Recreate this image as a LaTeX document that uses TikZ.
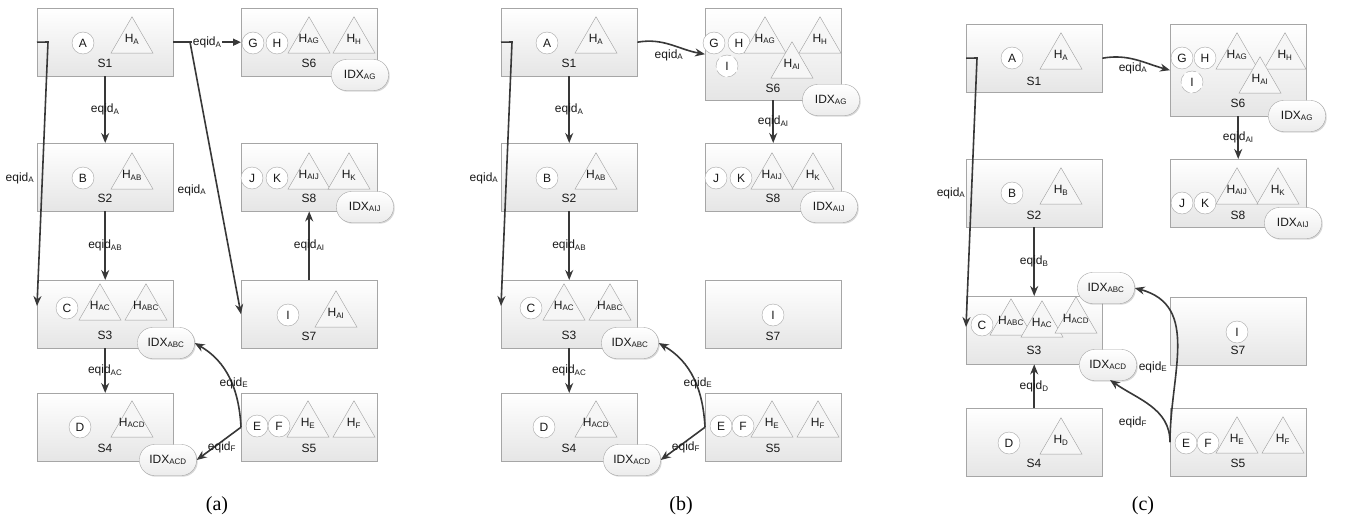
\documentclass[tikz,border=0pt]{standalone}
\usepackage{fontspec}
\setmainfont{Liberation Sans}
\newfontfamily\capfont{Liberation Serif}
\usetikzlibrary{arrows.meta,shapes.geometric,shadows}
\tikzset{
  sbox/.style={draw=gray!70, top color=white, bottom color=gray!20, inner sep=0pt,
    drop shadow={shadow xshift=1.2pt, shadow yshift=-1.2pt, opacity=0.3}},
  lab/.style={font=\fontsize{12}{14}\selectfont, text=black!90, inner sep=1pt},
  cnode/.style={circle, draw=gray!70, fill=white, minimum size=22pt, inner sep=0pt,
    font=\fontsize{12}{14}\selectfont, text=black!90},
  dcnode/.style={cnode, dash pattern=on 10pt off 3pt},
  tnode/.style={regular polygon, regular polygon sides=3, minimum size=48.5pt, inner sep=0pt,
    draw=gray!75, fill=gray!7},
  idx/.style={rectangle, rounded corners=15pt, minimum width=57pt, minimum height=31pt, inner sep=0pt,
    draw=gray!70, top color=white, bottom color=gray!15, font=\fontsize{12}{14}\selectfont, text=black!90,
    drop shadow={shadow xshift=1.2pt, shadow yshift=-1.2pt, opacity=0.3}},
  conn/.style={draw=black!78, line width=1.6pt, -{Stealth[length=10pt, width=8pt]}},
  wlab/.style={lab, fill=white},
  captxt/.style={font=\capfont\fontsize{20}{24}\selectfont, text=black}
}
\newcommand{\mkbox}[5]{\node[sbox, minimum width=#4pt, minimum height=#5pt, anchor=north west] (#1) at (#2,#3) {};}
\newcommand{\mkcirc}[4]{\node[cnode] (#1) at (#2,#3) {#4};}
\newcommand{\mkdcirc}[4]{\node[dcnode] (#1) at (#2,#3) {#4};}
\newcommand{\mktri}[4]{\node[tnode] (#1) at (#2,#3) {}; \node[lab] (#1l) at ([yshift=2pt]#1.center) {H\textsubscript{#4}};}
\newcommand{\mklab}[4]{\node[lab] (#1) at (#2,#3) {#4};}
\newcommand{\mkidx}[4]{\node[idx] (#1) at (#2,#3) {IDX\textsubscript{#4}};}
\newcommand{\eq}[1]{eqid\textsubscript{#1}}
\begin{document}
\begin{tikzpicture}[x=1pt, y=-1pt]
\fill[white] (0,0) rectangle (1348,524);
\useasboundingbox (0,0) rectangle (1348,524);

%%%%%%%%%%%%%%%% Panel (a)
\mkbox{a1}{37}{8}{136}{68}
\mkbox{a2}{37}{143}{136}{68}
\mkbox{a3}{37}{280}{136}{68}
\mkbox{a4}{37}{393}{136}{68}
\mkbox{a6}{241}{8}{136}{68}
\mkbox{a8}{241}{143}{136}{68}
\mkbox{a7}{241}{280}{136}{68}
\mkbox{a5}{241}{393}{136}{68}
\mklab{a1l}{105}{63}{S1}
\mklab{a2l}{105}{198}{S2}
\mklab{a3l}{105}{335}{S3}
\mklab{a4l}{105}{448}{S4}
\mklab{a6l}{309}{63}{S6}
\mklab{a8l}{309}{198}{S8}
\mklab{a7l}{309}{336}{S7}
\mklab{a5l}{309}{448}{S5}
\mkcirc{aA}{83}{43}{A}
\mkcirc{aG}{253}{43}{G}
\mkcirc{aH}{277}{43}{H}
\mkcirc{aB}{83}{178}{B}
\mkcirc{aJ}{252}{178}{J}
\mkcirc{aK}{277}{178}{K}
\mkcirc{aC}{67}{308}{C}
\mkcirc{aD}{80}{427}{D}
\mkcirc{aI}{288}{315}{I}
\mkcirc{aE}{257}{426}{E}
\mkcirc{aF}{279}{426}{F}
\mktri{aTA}{132}{41}{A}
\mktri{aTAG}{309}{41}{AG}
\mktri{aTH}{354}{41}{H}
\mktri{aTAB}{132}{177}{AB}
\mktri{aTAIJ}{309}{177}{AIJ}
\mktri{aTK}{349}{177}{K}
\mktri{aTAC}{100}{308}{AC}
\mktri{aTABC}{146}{308}{ABC}
\mktri{aTACD}{132}{425}{ACD}
\mktri{aTAI}{336}{315}{AI}
\mktri{aTE}{308}{425}{E}
\mktri{aTF}{354}{425}{F}
\mkidx{aAG}{360}{75}{AG}
\mkidx{aAIJ}{365}{207}{AIJ}
\mkidx{aABC}{166}{343}{ABC}
\mkidx{aACD}{168}{460}{ACD}

\draw[conn] (a1.south) -- node[lab]{\eq{A}} (a2.north);
\draw[conn] (a2.south) -- node[lab]{\eq{AB}} (a3.north);
\draw[conn] (a3.south) -- node[lab]{\eq{AC}} (a4.north);
\draw[conn] (a7.north) -- node[lab]{\eq{AI}} (a8.south);
\draw[conn, -{Triangle[length=8pt, width=7pt]}] (a1.east) -- node[wlab]{\eq{A}} (a6.west);
\coordinate (aL1) at (48,42);
\coordinate (aL2) at (37,306);
\draw[conn] (a1.west) -- (aL1) -- (aL2);
\mklab{aLl}{20}{178}{\eq{A}}
\coordinate (aR1) at (190,42);
\draw[conn] (a1.east) -- (aR1) -- (a7.west);
\mklab{aRl}{192}{190}{\eq{A}}
\draw[conn] (a5.west) to[out=93, in=-30] (aABC.east);
\mklab{aEl}{234}{383}{\eq{E}}
\draw[conn] (a5.west) -- (aACD.east);
\mklab{aFl}{222}{447}{\eq{F}}
\node[captxt] (capa) at (217,506) {(a)};

%%%%%%%%%%%%%%%% Panel (b)
\mkbox{b1}{501}{8}{136}{68}
\mkbox{b2}{501}{143}{136}{68}
\mkbox{b3}{501}{280}{136}{68}
\mkbox{b4}{501}{393}{136}{68}
\mkbox{b6}{705}{8}{136}{92}
\mkbox{b8}{705}{143}{136}{68}
\mkbox{b7}{705}{280}{136}{68}
\mkbox{b5}{705}{393}{136}{68}
\mklab{b1l}{569}{63}{S1}
\mklab{b2l}{569}{198}{S2}
\mklab{b3l}{569}{335}{S3}
\mklab{b4l}{569}{448}{S4}
\mklab{b6l}{773}{88}{S6}
\mklab{b8l}{773}{198}{S8}
\mklab{b7l}{773}{336}{S7}
\mklab{b5l}{773}{448}{S5}
\mkcirc{bA}{547}{43}{A}
\mkcirc{bB}{547}{178}{B}
\mkcirc{bC}{531}{308}{C}
\mkcirc{bD}{544}{427}{D}
\mkcirc{bG}{714}{43}{G}
\mkcirc{bH}{739}{43}{H}
\mkdcirc{bI1}{727}{66}{I}
\mkcirc{bJ}{716}{178}{J}
\mkcirc{bK}{741}{178}{K}
\mkcirc{bI2}{773}{315}{I}
\mkcirc{bE}{721}{426}{E}
\mkcirc{bF}{743}{426}{F}
\mktri{bTA}{596}{41}{A}
\mktri{bTAB}{596}{177}{AB}
\mktri{bTAC}{564}{308}{AC}
\mktri{bTABC}{610}{308}{ABC}
\mktri{bTACD}{596}{425}{ACD}
\mktri{bTAG}{765}{41}{AG}
\mktri{bTH}{820}{41}{H}
\mktri{bTAI}{792}{66}{AI}
\mktri{bTAIJ}{772}{177}{AIJ}
\mktri{bTK}{813}{177}{K}
\mktri{bTE}{772}{425}{E}
\mktri{bTF}{818}{425}{F}
\mkidx{bAG}{831}{100}{AG}
\mkidx{bAIJ}{829}{207}{AIJ}
\mkidx{bABC}{630}{343}{ABC}
\mkidx{bACD}{632}{460}{ACD}

\draw[conn] (b1.south) -- node[lab]{\eq{A}} (b2.north);
\draw[conn] (b2.south) -- node[lab]{\eq{AB}} (b3.north);
\draw[conn] (b3.south) -- node[lab]{\eq{AC}} (b4.north);
\draw[conn] (b6.south) -- node[lab]{\eq{AI}} (b8.north);
\draw[conn] (b1.east) to[out=10, in=170] (b6.west);
\mklab{b16l}{669}{55}{\eq{A}}
\coordinate (bL1) at (512,42);
\coordinate (bL2) at (501,306);
\draw[conn] (b1.west) -- (bL1) -- (bL2);
\mklab{bLl}{484}{178}{\eq{A}}
\draw[conn] (b5.west) to[out=93, in=-30] (bABC.east);
\mklab{bEl}{698}{383}{\eq{E}}
\draw[conn] (b5.west) -- (bACD.east);
\mklab{bFl}{686}{447}{\eq{F}}
\node[captxt] (capb) at (681,506) {(b)};

%%%%%%%%%%%%%%%% Panel (c)
\mkbox{c1}{966}{24}{136}{68}
\mkbox{c2}{966}{159}{136}{68}
\mkbox{c3}{966}{296}{136}{68}
\mkbox{c4}{966}{408}{136}{68}
\mkbox{c6}{1170}{24}{136}{92}
\mkbox{c8}{1170}{159}{136}{68}
\mkbox{c7}{1170}{297}{136}{68}
\mkbox{c5}{1170}{408}{136}{68}
\mklab{c1l}{1034}{81}{S1}
\mklab{c2l}{1034}{215}{S2}
\mklab{c3l}{1034}{350}{S3}
\mklab{c4l}{1034}{463}{S4}
\mklab{c6l}{1238}{103}{S6}
\mklab{c8l}{1238}{215}{S8}
\mklab{c7l}{1238}{350}{S7}
\mklab{c5l}{1238}{463}{S5}
\mkcirc{cA}{1012}{58}{A}
\mkcirc{cB}{1012}{193}{B}
\mkcirc{cC}{982}{325}{C}
\mkcirc{cD}{1009}{443}{D}
\mkcirc{cG}{1182}{58}{G}
\mkcirc{cH}{1205}{58}{H}
\mkdcirc{cI1}{1192}{82}{I}
\mkcirc{cJ}{1182}{203}{J}
\mkcirc{cK}{1205}{203}{K}
\mkcirc{cI2}{1237}{332}{I}
\mkcirc{cE}{1186}{443}{E}
\mkcirc{cF}{1208}{443}{F}
\mktri{cTA}{1061}{57}{A}
\mktri{cTB}{1061}{192}{B}
\mktri{cTABC}{1011}{323}{ABC}
\mktri{cTAC}{1042}{325}{AC}
\mktri{cTACD}{1076}{321}{ACD}
\mktri{cTD}{1061}{442}{D}
\mktri{cTAG}{1237}{57}{AG}
\mktri{cTH}{1285}{57}{H}
\mktri{cTAI}{1260}{81}{AI}
\mktri{cTAIJ}{1237}{192}{AIJ}
\mktri{cTK}{1278}{192}{K}
\mktri{cTE}{1237}{441}{E}
\mktri{cTF}{1283}{441}{F}
\mkidx{cAG}{1297}{116}{AG}
\mkidx{cAIJ}{1293}{223}{AIJ}
\mkidx{cABC}{1106}{288}{ABC}
\mkidx{cACD}{1108}{365}{ACD}

\coordinate (cL1) at (977,58);
\coordinate (cL2) at (966,327);
\draw[conn] (c1.west) -- (cL1) -- (cL2);
\mklab{cLl}{951}{193}{\eq{A}}
\draw[conn] (c1.east) to[out=10, in=165] (c6.west);
\mklab{c16l}{1133}{68}{\eq{A}}
\draw[conn] (c6.south) -- node[lab]{\eq{AI}} (c8.north);
\draw[conn] (c2.south) -- node[lab]{\eq{B}} (c3.north);
\draw[conn] (c4.north) -- node[lab]{\eq{D}} (c3.south);
\draw[conn] (c5.west) to[out=90, in=-15, looseness=1.1] (cABC.east);
\coordinate (cFt) at (1110,380);
\draw[conn] (c5.west) to[out=90, in=-35] (cFt);
\mklab{cEl}{1153}{367}{\eq{E}}
\mklab{cFl}{1133}{422}{\eq{F}}
\node[captxt] (capc) at (1143,506) {(c)};
\end{tikzpicture}
\end{document}
